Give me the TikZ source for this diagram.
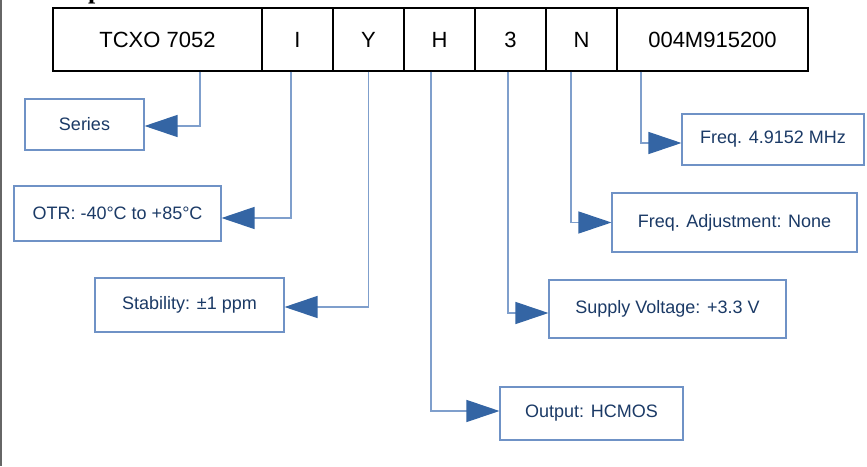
\documentclass[tikz,border=0pt]{standalone}
\usepackage{fontspec}
\setmainfont{Liberation Sans}
\newfontfamily\headserif{Liberation Serif}
\usetikzlibrary{arrows.meta}
\definecolor{linkblue}{HTML}{7F9FCC}
\definecolor{boxblue}{HTML}{6F92C6}
\definecolor{tipblue}{HTML}{3465A4}
\definecolor{txtblue}{HTML}{1B3A66}
\tikzset{
  codebox/.style={draw=black, line width=1.4pt, fill=white, rectangle, inner sep=0pt,
    minimum height=63pt, font=\fontsize{22}{26}\selectfont, text=black},
  infobox/.style={draw=boxblue, line width=1.1pt, fill=white, rectangle, inner sep=0pt,
    font=\fontsize{18}{22}\selectfont, text=txtblue},
  link/.style={draw=linkblue, line width=1.2pt,
    -{Triangle[length=33pt,width=22pt,color=tipblue,fill=tipblue]}}
}
\begin{document}
\begin{tikzpicture}[x=1pt,y=-1pt]
\useasboundingbox (0,0) rectangle (867,466);
\fill[white] (0,0) rectangle (867,466);
\draw[draw=black!60, line width=1.6pt] (0.8,0) -- (0.8,466);
\node[anchor=base west, inner sep=0pt, font=\headserif\bfseries\fontsize{26}{30}\selectfont] (frag) at (88,-1.5) {p};
% code row
\node[codebox, minimum width=209pt] (tcxo) at (157.5,39.5) {TCXO 7052};
\node[codebox, minimum width=71pt] (i) at (297.5,39.5) {I};
\node[codebox, minimum width=71pt] (y) at (368.5,39.5) {Y};
\node[codebox, minimum width=71pt] (h) at (439.5,39.5) {H};
\node[codebox, minimum width=71pt] (three) at (510.5,39.5) {3};
\node[codebox, minimum width=71pt] (n) at (581.5,39.5) {N};
\node[codebox, minimum width=191pt] (code) at (712.5,39.5) {004M915200};
% info boxes
\node[infobox, minimum width=119pt, minimum height=51pt] (series) at (84.5,124.5) {Series};
\node[infobox, minimum width=207pt, minimum height=55pt] (otr) at (117.5,213.5) {OTR: -40°C to +85°C};
\node[infobox, minimum width=189pt, minimum height=54pt] (stab) at (189.5,305) {Stability: ±1 ppm};
\node[infobox, minimum width=183pt, minimum height=53pt] (out) at (591.5,413.5) {Output: HCMOS};
\node[infobox, minimum width=237pt, minimum height=58pt] (supply) at (667.5,309) {Supply Voltage: +3.3 V};
\node[infobox, minimum width=245pt, minimum height=59pt] (adj) at (734.5,222.5) {Freq. Adjustment: None};
\node[infobox, minimum width=182pt, minimum height=51pt] (freq) at (773,139.5) {Freq. 4.9152 MHz};
% connectors
\draw[link] ([xshift=42.5pt]tcxo.south) |- ([yshift=-1.5pt]series.east);
\draw[link] ([xshift=-6.5pt]i.south) |- ([yshift=-4.5pt]otr.east);
\draw[link] (y.south) |- ([yshift=-2pt]stab.east);
\draw[link] ([xshift=-8.5pt]h.south) |- ([yshift=2.5pt]out.west);
\draw[link] ([xshift=-2.5pt]three.south) |- ([yshift=-4pt]supply.west);
\draw[link] ([xshift=-10.5pt]n.south) |- (adj.west);
\draw[link] ([xshift=-71.5pt]code.south) |- ([yshift=-3.5pt]freq.west);
\end{tikzpicture}
\end{document}
